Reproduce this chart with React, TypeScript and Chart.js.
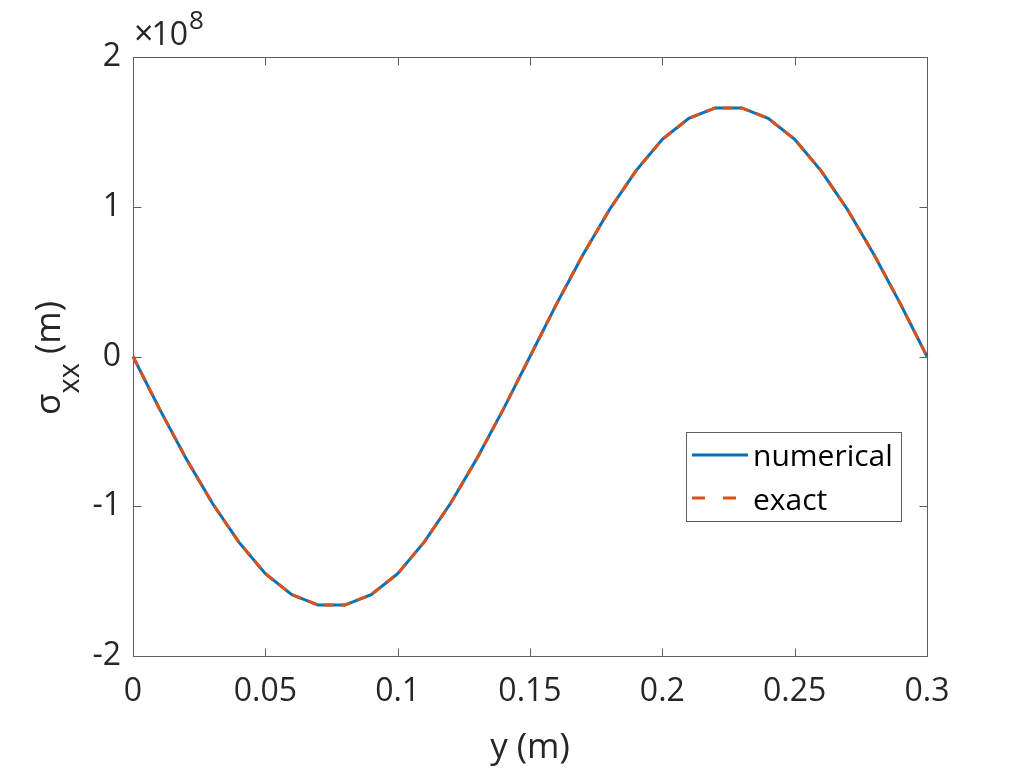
import React, { useEffect, useRef } from "react";
import { Chart, registerables } from "chart.js";

Chart.register(...registerables);

// y position along the beam (m)
const yPositions = [
  0, 0.01, 0.02, 0.03, 0.04, 0.05, 0.06, 0.07, 0.08, 0.09, 0.1, 0.11, 0.12,
  0.13, 0.14, 0.15, 0.16, 0.17, 0.18, 0.19, 0.2, 0.21, 0.22, 0.23, 0.24, 0.25,
  0.26, 0.27, 0.28, 0.29, 0.3,
];

// sigma_xx in units of 1e8
const numericalStress = [
  0, -0.35, -0.68, -0.98, -1.24, -1.45, -1.59, -1.66, -1.66, -1.59, -1.45,
  -1.24, -0.98, -0.68, -0.35, 0, 0.35, 0.68, 0.98, 1.24, 1.45, 1.59, 1.66,
  1.66, 1.59, 1.45, 1.24, 0.98, 0.68, 0.35, 0,
];
const exactStress = [
  0, -0.35, -0.68, -0.98, -1.24, -1.45, -1.59, -1.66, -1.66, -1.59, -1.45,
  -1.24, -0.98, -0.68, -0.35, 0, 0.35, 0.68, 0.98, 1.24, 1.45, 1.59, 1.66,
  1.66, 1.59, 1.45, 1.24, 0.98, 0.68, 0.35, 0,
];

const xTickValues = [0, 0.05, 0.1, 0.15, 0.2, 0.25, 0.3];
const yTickValues = [-2, -1, 0, 1, 2];

const FONT = '"Open Sans", "Noto Sans", sans-serif';
const TEXT = "#262626";
const BLUE = "#0072BD";
const ORANGE = "#D95319";

const matlabAxes = {
  id: "matlabAxes",
  beforeDatasetsDraw(chart: any) {
    const { ctx, chartArea, scales } = chart;
    const L = Math.round(chartArea.left) + 0.5;
    const R = Math.round(chartArea.right) + 0.5;
    const T = Math.round(chartArea.top) + 0.5;
    const B = Math.round(chartArea.bottom) + 0.5;
    ctx.save();
    ctx.strokeStyle = "#5e5e5e";
    ctx.lineWidth = 1;
    ctx.strokeRect(L, T, R - L, B - T);
    ctx.beginPath();
    xTickValues.forEach((v) => {
      const px = Math.round(scales.x.getPixelForValue(v)) + 0.5;
      ctx.moveTo(px, B);
      ctx.lineTo(px, B - 8);
      ctx.moveTo(px, T);
      ctx.lineTo(px, T + 8);
    });
    yTickValues.forEach((v) => {
      const py = Math.round(scales.y.getPixelForValue(v)) + 0.5;
      ctx.moveTo(L, py);
      ctx.lineTo(L + 8, py);
      ctx.moveTo(R, py);
      ctx.lineTo(R - 8, py);
    });
    ctx.stroke();
    ctx.restore();
  },
  afterDraw(chart: any) {
    const { ctx, chartArea } = chart;
    ctx.save();
    ctx.fillStyle = TEXT;

    // exponent label
    ctx.textBaseline = "alphabetic";
    ctx.textAlign = "left";
    ctx.font = `34px ${FONT}`;
    ctx.fillText("\u00d7", 134, 45);
    const wx = ctx.measureText("\u00d7").width;
    ctx.font = `32px ${FONT}`;
    ctx.fillText("10", 134 + wx - 2, 45);
    const w = wx - 2 + ctx.measureText("10").width;
    ctx.font = `26px ${FONT}`;
    ctx.fillText("8", 134 + w + 1, 29);

    // x title
    ctx.font = `35px ${FONT}`;
    ctx.textAlign = "center";
    ctx.textBaseline = "middle";
    ctx.fillText("y (m)", (chartArea.left + chartArea.right) / 2, 748);

    // y title, rotated, with subscript
    ctx.translate(60, 358);
    ctx.rotate(-Math.PI / 2);
    ctx.textAlign = "left";
    ctx.textBaseline = "alphabetic";
    ctx.font = `35px ${FONT}`;
    const wSig = ctx.measureText("\u03c3").width;
    const wRest = ctx.measureText(" (m)").width;
    ctx.font = `29px ${FONT}`;
    const wSub = ctx.measureText("xx").width;
    let x0 = -(wSig + wSub + wRest) / 2;
    ctx.font = `35px ${FONT}`;
    ctx.fillText("\u03c3", x0, 0);
    x0 += wSig;
    ctx.font = `29px ${FONT}`;
    ctx.fillText("xx", x0, 19);
    x0 += wSub;
    ctx.font = `35px ${FONT}`;
    ctx.fillText(" (m)", x0, 0);
    ctx.setTransform(1, 0, 0, 1, 0, 0);

    // legend
    ctx.fillStyle = "#ffffff";
    ctx.fillRect(686, 432, 216, 90);
    ctx.strokeStyle = "#5e5e5e";
    ctx.lineWidth = 1;
    ctx.strokeRect(686.5, 432.5, 215, 89);
    ctx.lineWidth = 3;
    ctx.strokeStyle = BLUE;
    ctx.beginPath();
    ctx.moveTo(692, 455);
    ctx.lineTo(748, 455);
    ctx.stroke();
    ctx.strokeStyle = ORANGE;
    ctx.setLineDash([13, 18]);
    ctx.beginPath();
    ctx.moveTo(692, 498);
    ctx.lineTo(748, 498);
    ctx.stroke();
    ctx.setLineDash([]);
    ctx.fillStyle = "#000";
    ctx.font = `30px ${FONT}`;
    ctx.textAlign = "left";
    ctx.fillText("numerical", 753, 466);
    ctx.fillText("exact", 753, 510);
    ctx.restore();
  },
};

export default function App() {
  const canvasRef = useRef<HTMLCanvasElement | null>(null);

  useEffect(() => {
    if (!canvasRef.current) return;
    const chart = new Chart(canvasRef.current, {
      type: "line",
      data: {
        datasets: [
          {
            label: "numerical",
            data: yPositions.map((x, i) => ({ x, y: numericalStress[i] })),
            borderColor: BLUE,
            borderWidth: 3,
            pointRadius: 0,
            order: 1,
            clip: false as any,
          },
          {
            label: "exact",
            data: yPositions.map((x, i) => ({ x, y: exactStress[i] })),
            borderColor: ORANGE,
            borderWidth: 3,
            borderDash: [10, 7],
            pointRadius: 0,
            order: 0,
            clip: false as any,
          },
        ],
      },
      options: {
        responsive: false,
        devicePixelRatio: 1,
        animation: false,
        layout: { padding: { top: 57, right: 97, left: 0, bottom: 0 } },
        plugins: { legend: { display: false }, tooltip: { enabled: false } },
        scales: {
          x: {
            type: "linear",
            min: 0,
            max: 0.3,
            grid: { display: false, drawTicks: false },
            border: { display: false },
            afterBuildTicks: (s: any) => {
              s.ticks = xTickValues.map((value) => ({ value }));
            },
            afterFit: (s: any) => {
              s.height = 112;
            },
            ticks: {
              autoSkip: false,
              maxRotation: 0,
              padding: 17,
              color: TEXT,
              font: { family: FONT, size: 32 },
              callback: (v: any) => String(Number(Number(v).toFixed(2))),
            },
          },
          y: {
            type: "linear",
            min: -2,
            max: 2,
            grid: { display: false, drawTicks: false },
            border: { display: false },
            afterBuildTicks: (s: any) => {
              s.ticks = yTickValues.map((value) => ({ value }));
            },
            afterFit: (s: any) => {
              s.width = 133;
            },
            ticks: {
              padding: 12,
              color: TEXT,
              font: { family: FONT, size: 32 },
              callback: (v: any) => String(v),
            },
          },
        },
      },
      plugins: [matlabAxes],
    });
    return () => chart.destroy();
  }, []);

  return (
    <div style={{ position: "fixed", left: 0, top: 0, width: 1024, height: 768, background: "#fff" }}>
      <canvas ref={canvasRef} width={1024} height={768} style={{ display: "block" }} />
    </div>
  );
}
